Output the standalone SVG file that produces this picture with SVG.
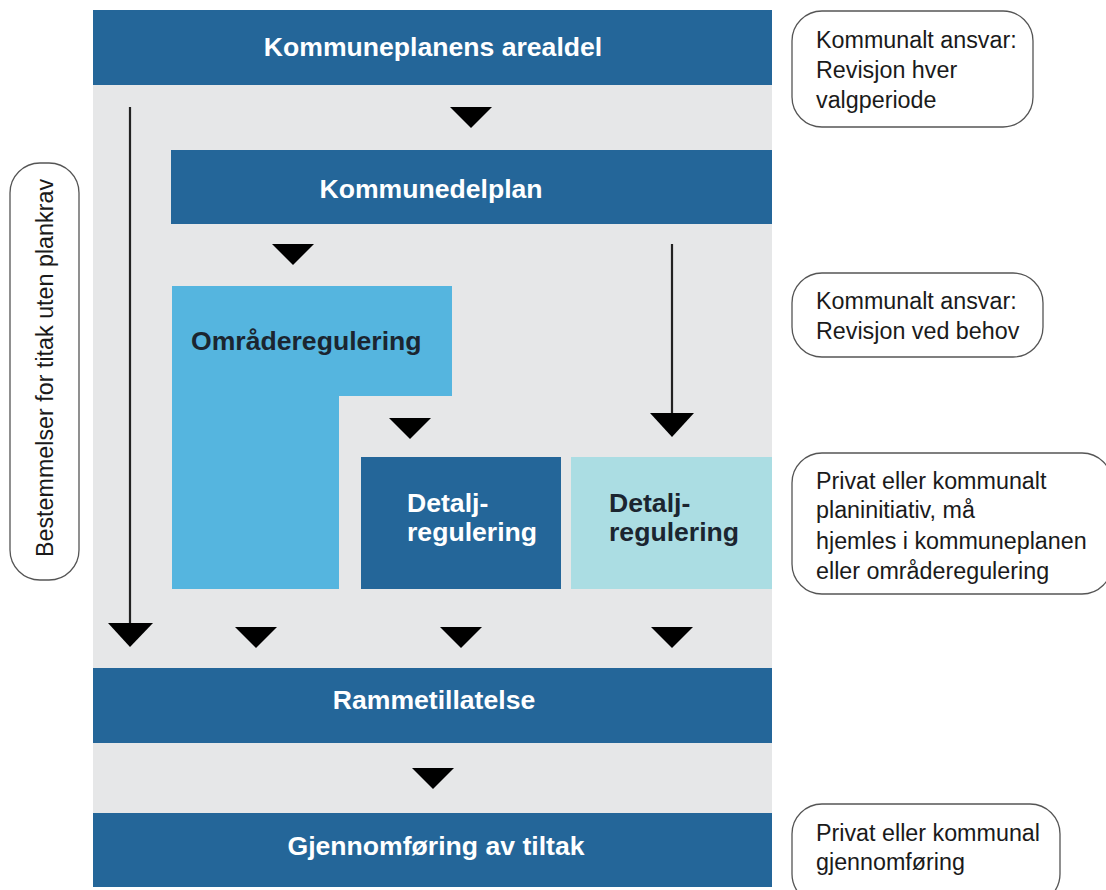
<svg xmlns="http://www.w3.org/2000/svg" width="1106" height="890" viewBox="0 0 1106 890">
<style>
.t{font-family:"Liberation Sans",Arial,sans-serif;font-weight:bold;font-size:26.6px}
.w{fill:#ffffff}
.d{fill:#1b2530}
.n{font-family:"Liberation Sans",Arial,sans-serif;font-size:23.3px;fill:#1a1a1a}
.dark{fill:#246699}
.box{fill:#ffffff;stroke:#555;stroke-width:1.3}
.tri{fill:#000}
.ln{stroke:#222;stroke-width:2.2;fill:none}
</style>
<rect x="0" y="0" width="1106" height="890" fill="#ffffff"/>
<rect id="bg" x="93" y="10" width="679" height="877" fill="#e6e7e8"/>
<g id="n1"><rect class="dark" x="93" y="10" width="679" height="75"/><text class="t w" x="433" y="56" text-anchor="middle">Kommuneplanens arealdel</text></g>
<g id="n2"><rect class="dark" x="171" y="150" width="601" height="74"/><text class="t w" x="431" y="198" text-anchor="middle">Kommunedelplan</text></g>
<g id="n3"><path d="M172 286H452V396H339V589H172Z" fill="#55b5df"/><text class="t d" x="191" y="350">Områderegulering</text></g>
<g id="n4"><rect class="dark" x="361" y="457" width="200" height="132"/><text class="t w" x="407" y="512">Detalj-</text><text class="t w" x="407" y="541">regulering</text></g>
<g id="n5"><rect x="571" y="457" width="201" height="132" fill="#abdde3"/><text class="t d" x="609" y="512">Detalj-</text><text class="t d" x="609" y="541">regulering</text></g>
<g id="n6"><rect class="dark" x="93" y="668" width="679" height="75"/><text class="t w" x="434" y="709" text-anchor="middle">Rammetillatelse</text></g>
<g id="n7"><rect class="dark" x="93" y="813" width="679" height="74"/><text class="t w" x="436" y="855" text-anchor="middle">Gjennomføring av tiltak</text></g>
<g id="connectors">
<path class="tri" d="M450 107H492L471 128Z"/>
<path class="tri" d="M272 244H314L293 265Z"/>
<line class="ln" x1="672" y1="244" x2="672" y2="416"/>
<path class="tri" d="M650 413H694L672 437Z"/>
<path class="tri" d="M389 418H431L410 439Z"/>
<line class="ln" x1="130" y1="107" x2="130" y2="626"/>
<path class="tri" d="M108 623H153L130 647Z"/>
<path class="tri" d="M235 627H277L256 648Z"/>
<path class="tri" d="M440 627H482L461 648Z"/>
<path class="tri" d="M651 627H693L672 648Z"/>
<path class="tri" d="M412 768H454L433 789Z"/>
</g>
<g id="s1"><rect class="box" x="792" y="11" width="241" height="116" rx="30"/><text class="n" x="816" y="48">Kommunalt ansvar:</text><text class="n" x="816" y="78">Revisjon hver</text><text class="n" x="816" y="108">valgperiode</text></g>
<g id="s2"><rect class="box" x="792" y="273" width="251" height="84" rx="30"/><text class="n" x="816" y="309">Kommunalt ansvar:</text><text class="n" x="816" y="339">Revisjon ved behov</text></g>
<g id="s3"><rect class="box" x="792" y="453" width="320" height="141" rx="30"/><text class="n" x="816" y="489">Privat eller kommunalt</text><text class="n" x="816" y="518">planinitiativ, må</text><text class="n" x="816" y="549">hjemles i kommuneplanen</text><text class="n" x="816" y="579">eller områderegulering</text></g>
<g id="s4"><rect class="box" x="792" y="804" width="268" height="100" rx="30"/><text class="n" x="816" y="841">Privat eller kommunal</text><text class="n" x="816" y="870">gjennomføring</text></g>
<g id="s5"><rect class="box" x="10" y="163" width="69" height="417" rx="30"/><text class="n" x="0" y="0" text-anchor="middle" font-size="24px" transform="translate(53 368) rotate(-90)">Bestemmelser for titak uten plankrav</text></g>
</svg>
